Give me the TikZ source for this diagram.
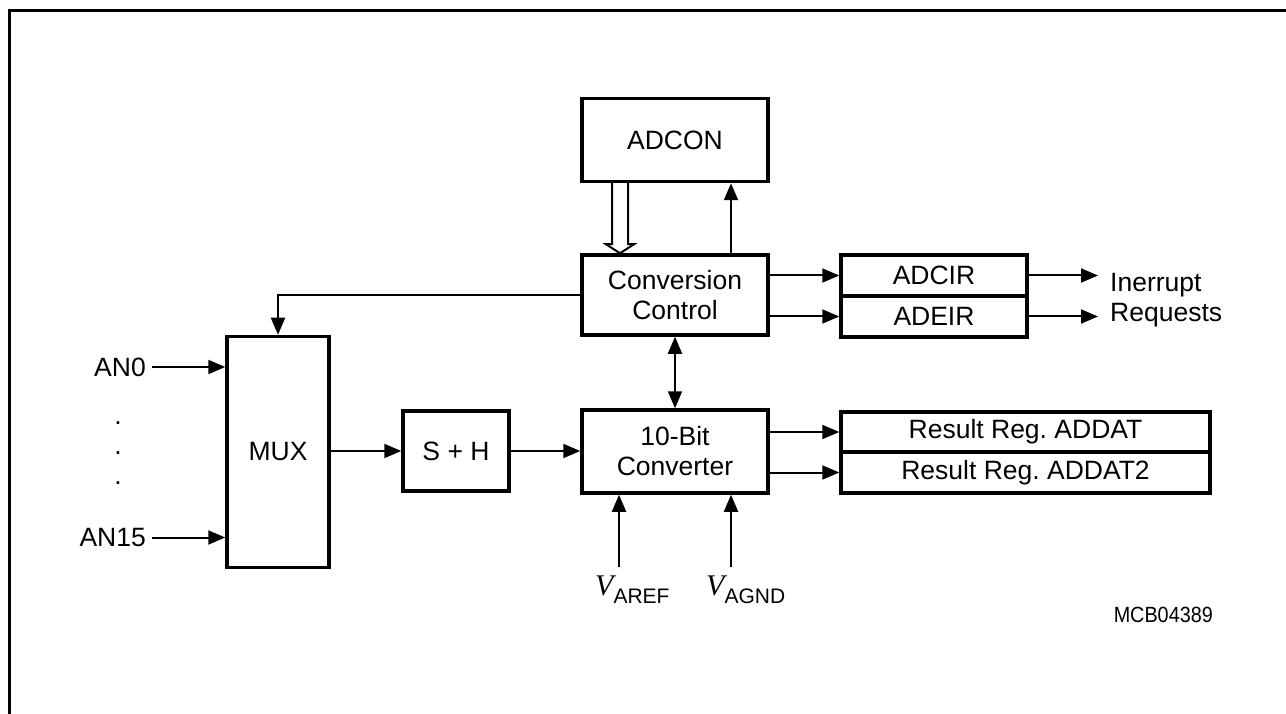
\documentclass[tikz,border=0pt]{standalone}
\usepackage{fontspec}
\setmainfont{Liberation Sans}
\newfontfamily\vfont{Liberation Serif}
\usetikzlibrary{arrows.meta,calc}
\newcommand{\mainfs}{\fontsize{26.5}{30}\selectfont}
\frenchspacing
\begin{document}
\begin{tikzpicture}[x=1pt,y=-1pt,
  box/.style={draw, line width=3.5pt, inner sep=0pt, align=center, font=\mainfs},
  lbl/.style={inner sep=0pt, font=\mainfs},
  arr/.style={line width=2pt, -{Triangle[length=17pt,width=14pt]}},
  arrboth/.style={line width=2pt, {Triangle[length=17pt,width=14pt]}-{Triangle[length=17pt,width=14pt]}},
  dbl/.style={line width=2pt, line join=miter}
]
\useasboundingbox (0,0) rectangle (1286,714);
% frame (top and left edges)
\draw[line width=3pt] (9,714) -- (9,11) -- (1286,11);

% blocks
\node[box, minimum width=186pt, minimum height=83pt] (adcon) at (675,140) {ADCON};
\node[box, minimum width=186pt, minimum height=80pt] (cc) at (675,295) {Conversion\\Control};
\node[box, minimum width=186pt, minimum height=41pt] (adcir) at (934,275.5) {ADCIR};
\node[box, minimum width=186pt, minimum height=41pt] (adeir) at (934,316.5) {ADEIR};
\node[box, minimum width=186pt, minimum height=83pt] (conv) at (675,451.5) {10-Bit\\Converter};
\node[box, minimum width=106pt, minimum height=80pt] (sh) at (456,451) {S + H};
\node[box, minimum width=102pt, minimum height=231pt] (mux) at (278,452) {MUX};
\node[box, minimum width=369pt, minimum height=40pt] (resa) at (1025.5,432) {Result Reg. ADDAT};
\node[box, minimum width=369pt, minimum height=41pt] (resb) at (1025.5,472.5) {Result Reg. ADDAT2};

% labels
\node[lbl, anchor=base west] (irq1) at (1110,292) {Inerrupt};
\node[lbl, anchor=base west] (irq2) at (1110,322) {Requests};
\node[lbl, anchor=east] (an0) at (146,367) {AN0};
\node[lbl, anchor=east] (an15) at (146,537.5) {AN15};
\node[lbl] (d1) at (118,423) {.};
\node[lbl] (d2) at (118,453) {.};
\node[lbl] (d3) at (118,483) {.};
\node[inner sep=0pt, anchor=base west] (varef) at (595,595)
  {{\vfont\itshape\fontsize{30}{30}\selectfont V}\raisebox{-8pt}{\fontsize{21}{21}\selectfont AREF}};
\node[inner sep=0pt, anchor=base west] (vagnd) at (706,595)
  {{\vfont\itshape\fontsize{30}{30}\selectfont V}\raisebox{-8pt}{\fontsize{21}{21}\selectfont AGND}};
\node[inner sep=0pt, anchor=base east, font=\fontsize{22}{22}\selectfont] (mcb) at (1213,622)
  {\scalebox{0.9}[1]{MCB04389}};

% free ends
\coordinate (q) at (1098,300);
\coordinate (vr) at (619,567);
\coordinate (vg) at (731,567);

% connectors
\draw[dbl] ([xshift=-63pt]adcon.south) |- ([xshift=-69pt,yshift=9pt]cc.north)
  -- ([xshift=-55pt]cc.north) -- ([xshift=-41pt,yshift=9pt]cc.north)
  -| ([xshift=-47pt]adcon.south);
\draw[arr] ([xshift=56pt]cc.north) -- ([xshift=56pt]adcon.south);
\draw[arr] (cc.east |- adcir.west) -- (adcir.west);
\draw[arr] (cc.east |- adeir.west) -- (adeir.west);
\draw[arr] (adcir.east) -- (adcir.east -| q);
\draw[arr] (adeir.east) -- (adeir.east -| q);
\draw[arr] (cc.west) -| (mux.north);
\draw[arrboth] (cc.south) -- (conv.north);
\draw[arr] ([xshift=6pt]an0.east) -- (an0.east -| mux.west);
\draw[arr] ([xshift=6pt]an15.east) -- (an15.east -| mux.west);
\draw[arr] (mux.east |- sh.west) -- (sh.west);
\draw[arr] (sh.east) -- (sh.east -| conv.west);
\draw[arr] (conv.east |- resa.west) -- (resa.west);
\draw[arr] (conv.east |- resb.west) -- (resb.west);
\draw[arr] (vr) -- (vr |- conv.south);
\draw[arr] (vg) -- (vg |- conv.south);
\end{tikzpicture}
\end{document}
